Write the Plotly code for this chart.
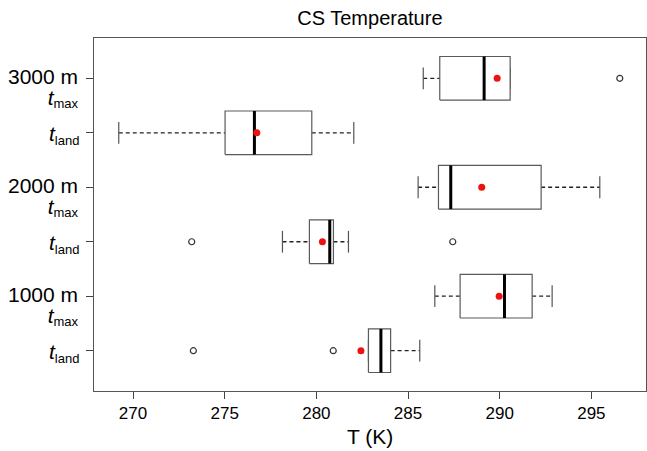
import plotly.graph_objects as go

# Box positions (bottom to top) and labels
positions = [1, 2, 3, 4, 5, 6]
heights = ["1000 m", "1000 m", "2000 m", "2000 m", "3000 m", "3000 m"]
kinds = ["land", "max", "land", "max", "land", "max"]

# Box statistics (T in K)
lower = [282.84, 286.46, 278.15, 285.55, 269.22, 285.83]
q1 = [282.84, 287.84, 279.62, 286.66, 275.02, 286.73]
median = [283.52, 290.26, 280.73, 287.33, 276.62, 289.15]
q3 = [284.05, 291.77, 280.93, 292.26, 279.75, 290.57]
upper = [285.64, 292.86, 281.75, 295.46, 282.04, 290.57]
means = [282.43, 289.97, 280.33, 289.02, 276.75, 289.86]
outliers = [[273.29, 280.92], [], [273.20, 287.44], [], [], [296.55]]

BOXW = 0.4   # half box height
STAP = 0.2   # half staple length
FONT = "Liberation Sans, Arial, Helvetica, sans-serif"

fig = go.Figure()

for i, p in enumerate(positions):
    # whiskers (dashed)
    fig.add_trace(go.Scatter(x=[lower[i], q1[i], None, q3[i], upper[i]],
                             y=[p, p, None, p, p], mode="lines",
                             line=dict(color="#222222", width=1.3, dash="4px,3px"),
                             hoverinfo="skip", showlegend=False))
    # staples
    fig.add_trace(go.Scatter(x=[lower[i], lower[i], None, upper[i], upper[i]],
                             y=[p - STAP, p + STAP, None, p - STAP, p + STAP], mode="lines",
                             line=dict(color="#555555", width=1.2),
                             hoverinfo="skip", showlegend=False))
    # box
    fig.add_trace(go.Scatter(x=[q1[i], q3[i], q3[i], q1[i], q1[i]],
                             y=[p - BOXW, p - BOXW, p + BOXW, p + BOXW, p - BOXW],
                             mode="lines", fill="toself", fillcolor="white",
                             line=dict(color="#5a5a5a", width=1.2),
                             hoverinfo="skip", showlegend=False))
    # median
    fig.add_trace(go.Scatter(x=[median[i], median[i]], y=[p - BOXW, p + BOXW],
                             mode="lines", line=dict(color="black", width=3),
                             hoverinfo="skip", showlegend=False))
    # outliers
    if outliers[i]:
        fig.add_trace(go.Scatter(x=outliers[i], y=[p] * len(outliers[i]), mode="markers",
                                 marker=dict(symbol="circle-open", size=6, color="#333333",
                                             line=dict(width=1.2)),
                                 hoverinfo="skip", showlegend=False))

# means (red dots)
fig.add_trace(go.Scatter(x=means, y=positions, mode="markers",
                         marker=dict(color="#ee1111", size=7),
                         hoverinfo="skip", showlegend=False))

# y labels
annotations = []
for i, p in enumerate(positions):
    sub = ("<span style='font-size:21px'><i>t</i></span>"
           "<sub><span style='font-size:13px'>%s</span></sub>" % kinds[i])
    if kinds[i] == "max":
        text = "<span style='font-size:21px'>%s</span><br>%s" % (heights[i], sub)
        annotations.append(dict(x=0, xref="paper", y=p, yref="y", text=text,
                                xanchor="right", yanchor="middle", align="right",
                                xshift=-13, yshift=-10, showarrow=False,
                                font=dict(size=16, color="black", family=FONT)))
    else:
        annotations.append(dict(x=0, xref="paper", y=p, yref="y", text=sub,
                                xanchor="right", yanchor="middle", xshift=-13, yshift=-2,
                                showarrow=False, font=dict(size=21, color="black", family=FONT)))

annotations.append(dict(x=0.5, xref="paper", y=-0.13, yref="paper", text="T (K)",
                        xanchor="center", yanchor="middle", showarrow=False,
                        font=dict(size=21, color="black", family=FONT)))

fig.update_layout(
    width=647, height=451,
    margin=dict(l=94, r=1, t=38, b=60),
    paper_bgcolor="white", plot_bgcolor="white",
    title=dict(text="CS Temperature", x=0.5717, xanchor="center", y=0.96, yanchor="middle",
               font=dict(size=20, color="black", family=FONT)),
    annotations=annotations,
    xaxis=dict(range=[267.87, 297.98], tickvals=[270, 275, 280, 285, 290, 295],
               ticks="outside", ticklen=7, tickcolor="#444444", tickwidth=1,
               showline=True, linecolor="#555555", linewidth=1, mirror=True,
               showgrid=False, zeroline=False,
               tickfont=dict(size=17, color="black", family=FONT)),
    yaxis=dict(range=[0.26, 6.74], tickvals=positions, showticklabels=False,
               ticks="outside", ticklen=7, tickcolor="#444444", tickwidth=1,
               showline=True, linecolor="#555555", linewidth=1, mirror=True,
               showgrid=False, zeroline=False),
)

fig.write_html("out.html")
